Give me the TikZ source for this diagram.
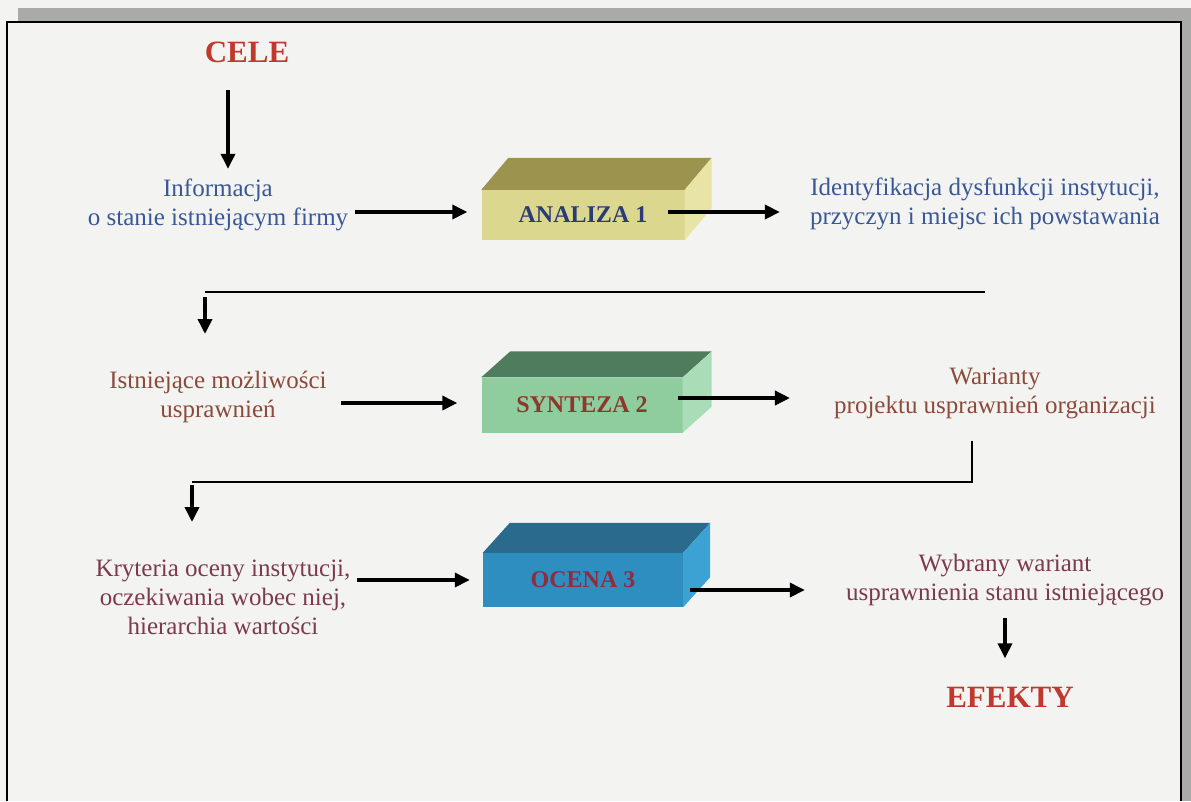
\documentclass[tikz,border=0pt]{standalone}
\usepackage{fontspec}
\setmainfont{Liberation Serif}
\usetikzlibrary{arrows.meta,positioning,calc}
\definecolor{paper}{HTML}{F3F4F1}
\definecolor{scanbar}{HTML}{A9ABA9}
\definecolor{redtitle}{HTML}{C0392E}
\definecolor{bluetext}{HTML}{3A5896}
\definecolor{browntext}{HTML}{8C4A3A}
\definecolor{mauvetext}{HTML}{7C3A4C}
\definecolor{olivetop}{HTML}{9C944E}
\definecolor{olivefront}{HTML}{DCD78E}
\definecolor{oliveside}{HTML}{E8E4A6}
\definecolor{greentop}{HTML}{4E7C5C}
\definecolor{greenfront}{HTML}{8FCC9E}
\definecolor{greenside}{HTML}{A9DDB7}
\definecolor{bluetop}{HTML}{2A6A8C}
\definecolor{bluefront}{HTML}{2F8EC0}
\definecolor{blueside}{HTML}{3CA2D4}
\definecolor{analizatext}{HTML}{2B3C72}
\definecolor{syntezatext}{HTML}{8A3A2C}
\definecolor{ocenatext}{HTML}{8E2C40}

\begin{document}
\begin{tikzpicture}[x=1pt,y=-1pt, myarrow/.style={-{Triangle[length=15pt,width=14pt]},line width=3.5pt}]
    \tikzstyle{flow text}=[align=center,inner sep=2pt,font=\fontsize{25}{29}\selectfont]
    \tikzstyle{title}=[font=\fontsize{31}{36}\selectfont\bfseries,text=redtitle]
    \tikzstyle{block}=[inner sep=0pt,font=\fontsize{24}{26}\selectfont\bfseries]
    \tikzstyle{backline}=[line width=2.5pt]

    % Page and scanned frame
    \fill[paper] (0,0) rectangle (1191,801);
    \useasboundingbox (0,0) rectangle (1191,801);
    \fill[scanbar] (18,8) rectangle (1191,22);
    \fill[scanbar] (1181,8) rectangle (1191,801);
    \draw[line width=2pt] (7,801) -- (7,22) -- (1181,22) -- (1181,801);

    % Draw the nodes
    \node[title] (cele) at (247,52) {CELE};
    \node[flow text,text=bluetext] (info) at (218,205) {Informacja\\o stanie istniejącym firmy};
    \node[block,fill=olivefront,minimum width=203pt,minimum height=50pt,text=analizatext] (analiza) at (583,215) {ANALIZA 1};
    \node[flow text,text=bluetext] (ident) at (985,204) {Identyfikacja dysfunkcji instytucji,\\przyczyn i miejsc ich powstawania};

    \node[flow text,text=browntext] (mozl) at (218,397) {Istniejące możliwości\\usprawnień};
    \node[block,fill=greenfront,minimum width=201pt,minimum height=55pt,text=syntezatext] (synteza) at (582,405) {SYNTEZA 2};
    \node[flow text,text=browntext] (warianty) at (995,393) {Warianty\\projektu usprawnień organizacji};

    \node[flow text,text=mauvetext] (kryt) at (223,597) {Kryteria oceny instytucji,\\oczekiwania wobec niej,\\hierarchia wartości};
    \node[block,fill=bluefront,minimum width=200pt,minimum height=54pt,text=ocenatext] (ocena) at (583,580) {OCENA 3};
    \node[flow text,text=mauvetext] (wybrany) at (1005,580) {Wybrany wariant\\usprawnienia stanu istniejącego};
    \node[title] (efekty) at (1010,697) {EFEKTY};

    \coordinate (back1) at (985,292);
    \coordinate (turn1) at (205,292);
    \coordinate (back2) at (972,482);
    \coordinate (turn2) at (192,482);

    % Top and side faces of the blocks
    \foreach \b/\tc/\sc/\dx/\dy in {analiza/olivetop/oliveside/27/32, synteza/greentop/greenside/29/26, ocena/bluetop/blueside/27/30} {
        \fill[\tc] (\b.north west) -- ++(\dx,-\dy) -- ($(\b.north east)+(\dx,-\dy)$) -- (\b.north east) -- cycle;
        \fill[\sc] (\b.north east) -- ++(\dx,-\dy) -- ($(\b.south east)+(\dx,-\dy)$) -- (\b.south east) -- cycle;
    }

    % Connect every node
    \draw[myarrow] ([xshift=-19pt,yshift=-24pt]cele.south) -- ([xshift=10pt,yshift=8pt]info.north);
    \draw[myarrow] ([xshift=5pt,yshift=-7pt]info.east) -- ([xshift=-14pt,yshift=3pt]analiza.west);
    \draw[myarrow] ([xshift=-17pt,yshift=3pt]analiza.east) -- ([xshift=-28pt,yshift=-8pt]ident.west);

    \draw[backline] (back1) -- (turn1);
    \draw[myarrow] ([yshift=-5pt]turn1) -- ([yshift=-42pt]turn1);
    \draw[myarrow] ([xshift=12pt,yshift=-6pt]mozl.east) -- ([xshift=-24pt,yshift=2pt]synteza.west);
    \draw[myarrow] ([xshift=-5pt,yshift=7pt]synteza.east) -- ([xshift=-42pt,yshift=-5pt]warianty.west);

    \draw[backline] ([yshift=-20pt]warianty.south -| back2) -- (back2) -- (turn2);
    \draw[myarrow] ([yshift=-3pt]turn2) -- ([yshift=-40pt]turn2);
    \draw[myarrow] ([xshift=4pt,yshift=17pt]kryt.east) -- ([xshift=-13pt]ocena.west);
    \draw[myarrow] ([xshift=7pt,yshift=-10pt]ocena.east) -- ([xshift=-39pt,yshift=-10pt]wybrany.west);
    \draw[myarrow] ([yshift=-10pt]wybrany.south) -- ([yshift=25pt]wybrany.south |- efekty.north);
\end{tikzpicture}
\end{document}
